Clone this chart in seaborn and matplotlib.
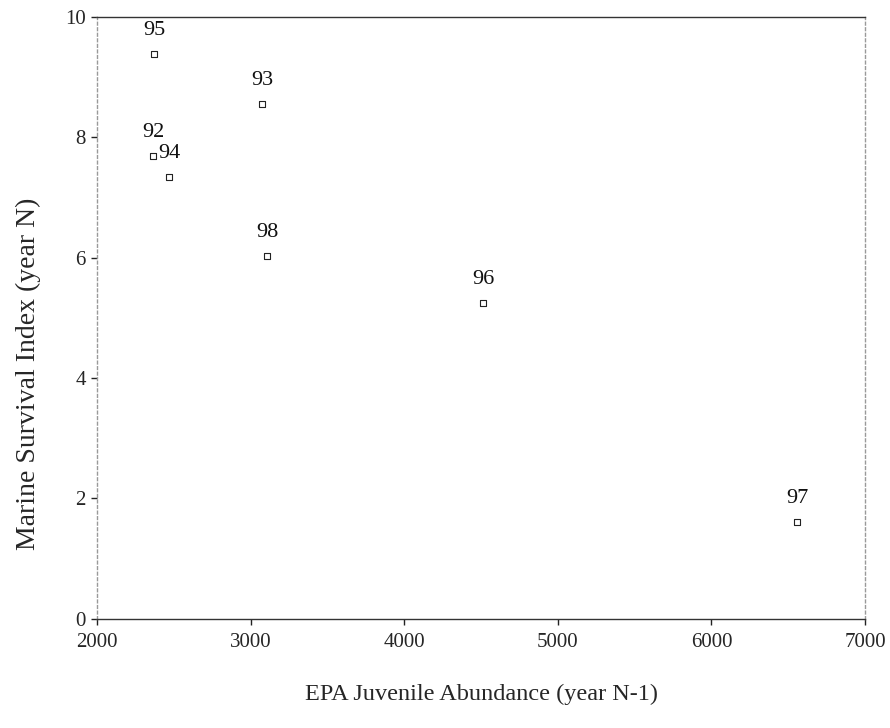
import matplotlib
matplotlib.use("Agg")
import matplotlib.pyplot as plt
import seaborn as sns
import pandas as pd

# Data: EPA juvenile abundance (year N-1) vs marine survival (year N)
years = ["92", "93", "94", "95", "96", "97", "98"]
abundance = [2365, 3074, 2469, 2371, 4513, 6557, 3107]
survival = [7.69, 8.55, 7.34, 9.38, 5.24, 1.60, 6.02]

df = pd.DataFrame({"Year": years, "Abundance": abundance, "Survival": survival})

sns.set_style("white")
plt.rcParams['font.family'] = ['Liberation Serif', 'DejaVu Serif']

fig = plt.figure(figsize=(8.9, 7.28), dpi=100)
ax = fig.add_axes([0.109, 0.150, 0.863, 0.827])

sns.scatterplot(data=df, x="Abundance", y="Survival", ax=ax, marker="s", s=13,
                facecolor="white", edgecolor="#222222", linewidth=0.8, zorder=3)

# year labels above each point
for _, row in df.iterrows():
    ax.annotate(row["Year"], (row["Abundance"], row["Survival"]),
                xytext=(0, 17), textcoords="offset points",
                ha="center", va="center", fontsize=16, color="#111111")

ax.set_xlim(2000, 7000)
ax.set_ylim(0, 10)
ax.set_xticks([2000, 3000, 4000, 5000, 6000, 7000])
ax.set_yticks([0, 2, 4, 6, 8, 10])
ax.tick_params(axis="both", direction="out", length=4, width=1, color="#222222",
               labelsize=15, bottom=True, left=True)
ax.tick_params(axis="x", pad=6)
ax.tick_params(axis="y", pad=4)

for side in ["top", "bottom"]:
    ax.spines[side].set_color("#333333")
    ax.spines[side].set_linewidth(1)
for side in ["left", "right"]:
    ax.spines[side].set_color("#999999")
    ax.spines[side].set_linestyle((0, (2, 2)))
    ax.spines[side].set_linewidth(1)

ax.set_xlabel("EPA Juvenile Abundance (year N-1)", fontsize=17.5, labelpad=23)
ax.set_ylabel("Marine Survival Index (year N)", fontsize=20)
ax.yaxis.set_label_coords(-0.073, 0.407)

fig.savefig("out.png", dpi=100)
